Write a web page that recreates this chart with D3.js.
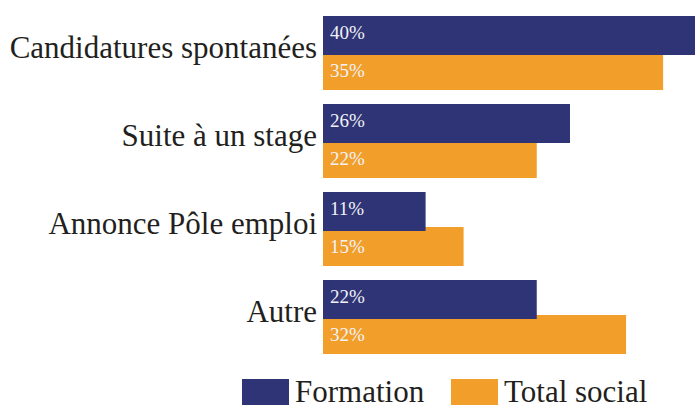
<!DOCTYPE html>
<html>
<head>
<meta charset="utf-8">
<script src="https://cdn.jsdelivr.net/npm/d3@7"></script>
<style>
  body { margin: 0; background: #fff; }
</style>
</head>
<body>
<div class="container"></div>
<script>
const categories = ["Candidatures spontanées", "Suite à un stage", "Annonce Pôle emploi", "Autre"];
const seriesNames = ["Formation", "Total social"];
const formationVals = [40, 26, 10.8, 22.5];
const totalSocialVals = [35.8, 22.5, 14.8, 31.9];
const formationLabels = ["40%", "26%", "11%", "22%"];
const totalSocialLabels = ["35%", "22%", "15%", "32%"];
const colors = ["#2f3477", "#f19f2a"];

const w = 695;
const h = 405;
const font = "Liberation Serif";

const svg = d3.select(".container")
  .append("svg")
  .attr("width", w)
  .attr("height", h)
  .style("display", "block");

/* x scale: bars start at the plot's left edge */
const xScale = d3.scaleLinear()
  .domain([0, 40])
  .range([323, 703]);

/* one band per category */
const yScale = d3.scaleBand()
  .domain(categories)
  .range([16, 368])
  .paddingInner(0);

const barH = 39;
const step = 35;

const rows = categories.map((c, i) => ({
  cat: c,
  vals: [formationVals[i], totalSocialVals[i]],
  labels: [formationLabels[i], totalSocialLabels[i]]
}));

// draw orange first so navy sits on top where they overlap
[1, 0].forEach((s) => {
  svg.selectAll("rect.s" + s)
    .data(rows)
    .enter()
    .append("rect")
    .attr("class", "s" + s)
    .attr("x", xScale(0))
    .attr("y", (d) => yScale(d.cat) + s * step)
    .attr("width", (d) => xScale(d.vals[s]) - xScale(0))
    .attr("height", barH)
    .attr("fill", colors[s]);
});

[0, 1].forEach((s) => {
  svg.selectAll("text.v" + s)
    .data(rows)
    .enter()
    .append("text")
    .attr("class", "v" + s)
    .attr("x", xScale(0) + 7)
    .attr("y", (d) => yScale(d.cat) + s * step + (s === 0 ? 23 : 26))
    .attr("fill", "#f2f2f6")
    .attr("font-family", font)
    .attr("font-size", 19)
    .text((d) => d.labels[s]);
});

/* category labels */
svg.selectAll("text.cat")
  .data(categories)
  .enter()
  .append("text")
  .attr("class", "cat")
  .attr("x", 317)
  .attr("y", (d) => yScale(d) + 42)
  .attr("text-anchor", "end")
  .attr("fill", "#231f20")
  .attr("font-family", font)
  .attr("font-size", 31)
  .text((d) => d);

/* legend */
const legendX = [242, 451];
const legend = svg.selectAll("g.legend")
  .data(seriesNames)
  .enter()
  .append("g")
  .attr("class", "legend")
  .attr("transform", (d, i) => "translate(" + legendX[i] + ",379)");

legend.append("rect")
  .attr("width", 47)
  .attr("height", 30)
  .attr("fill", (d, i) => colors[i]);

legend.append("text")
  .attr("x", 53)
  .attr("y", 23)
  .attr("fill", "#231f20")
  .attr("font-family", font)
  .attr("font-size", 31)
  .text((d) => d);
</script>
</body>
</html>
